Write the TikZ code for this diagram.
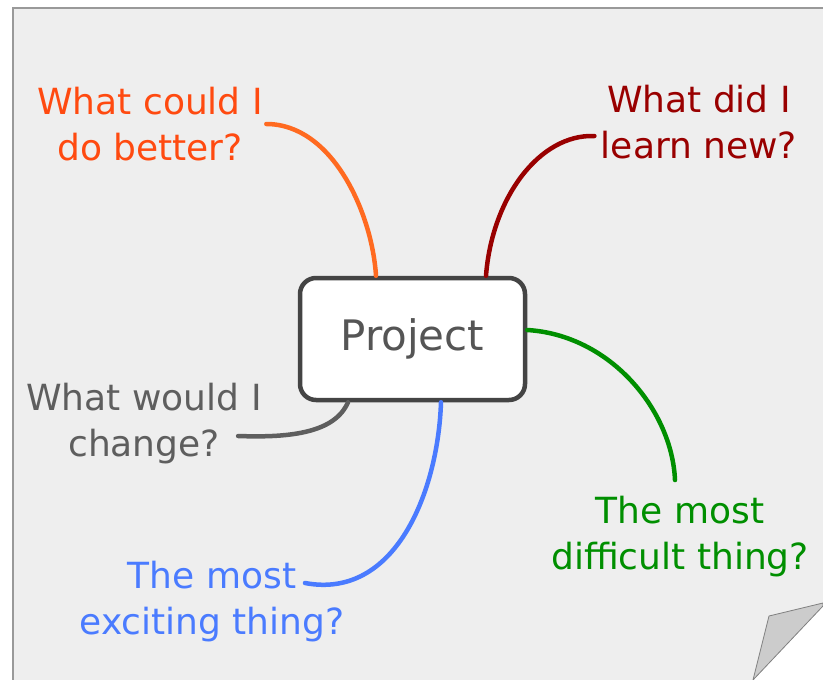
\documentclass[tikz,border=0pt]{standalone}
\usepackage{fontspec}
\setmainfont{DejaVu Sans}
\usetikzlibrary{positioning}
\definecolor{pagegrey}{HTML}{EEEEEE}
\definecolor{edgegrey}{HTML}{999999}
\definecolor{foldgrey}{HTML}{CCCCCC}
\definecolor{boxgrey}{HTML}{444444}
\definecolor{textgrey}{HTML}{555555}
\definecolor{ideaorange}{HTML}{FF4A10}
\definecolor{lineorange}{HTML}{FF6A20}
\definecolor{ideared}{HTML}{990000}
\definecolor{ideagrey}{HTML}{5E5E5E}
\definecolor{ideablue}{HTML}{4A7BFF}
\definecolor{ideagreen}{HTML}{008F00}
\tikzset{
page/.style={fill=pagegrey},
pageedge/.style={draw=edgegrey, line width=1.5},
fold/.style={fill=foldgrey, draw=gray, line width=0.8, line join=round},
topic/.style={draw=boxgrey, line width=4.5, rounded corners=16, fill=white, text=textgrey,
  minimum width=225, minimum height=122, font=\fontsize{42}{50}\selectfont},
question/.style={align=center, font=\fontsize{36}{46}\selectfont},
branch/.style={line width=4.5, line cap=round},
}

\begin{document}
\begin{tikzpicture}[x=1pt, y=-1pt]
        \useasboundingbox (0,0) rectangle (823,680);

        % sheet of paper with curled corner
        \fill[page] (13,8) -- (823,8) -- (823,606) -- (753,680) -- (13,680) -- cycle;
        \draw[pageedge] (13,680) -- (13,8) -- (823,8);
        \filldraw[fold] (769,616) -- (823,603) -- (823,606) -- (753,680) -- cycle;

        \node[topic] (project) at (412.5,339) {Project};

        \node[question, text=ideaorange] (better) at (150,124) {What could I\\do better?};
        \node[question, text=ideared] (learned) at (699,122) {What did I\\learn new?};
        \node[question, text=ideagrey] (change) at (144,424) {What would I\\change?};
        \node[question, text=ideablue] (exciting) at (212,602) {The most\\exciting thing?};
        \node[question, text=ideagreen] (difficult) at (680,537) {The most\\difficult thing?};

        \draw[branch, lineorange] (better.east)
            .. controls +(66,0) and +(-4,-63) .. ([xshift=-36.5]project.north);
        \draw[branch, ideared] ([shift={(-3,14)}]learned.west)
            .. controls +(-55,-2) and +(6,-78) .. ([xshift=73.5]project.north);
        \draw[branch, ideagreen] ([yshift=9]project.east)
            .. controls +(83,5) and +(-3,-70) .. ([shift={(-5,-13)}]difficult.north);
        \draw[branch, ideablue] ([xshift=28.5]project.south)
            .. controls +(-3,90) and +(90,17) .. ([shift={(-43,-19)}]exciting.east);
        \draw[branch, ideagrey] ([xshift=-64.5]project.south)
            .. controls +(-13,30) and +(54,2) .. ([shift={(-27,12)}]change.east);
\end{tikzpicture}
\end{document}
